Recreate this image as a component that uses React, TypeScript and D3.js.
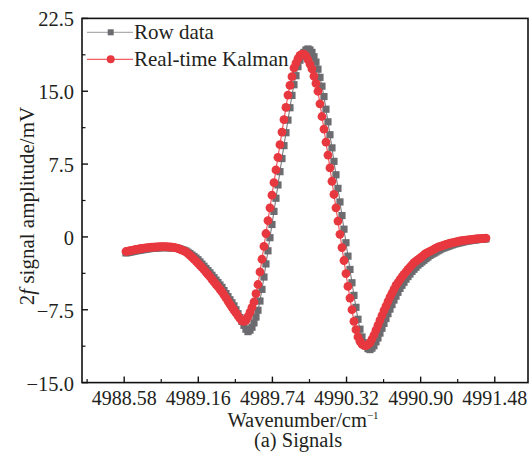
import React from 'react';
import * as d3 from 'd3';

// Sampling grid (wavenumber, cm^-1)
const X_START = 4988.594;
const X_STEP = 0.01565;

// Raw 2f signal (mV)
const rowData = [
  -1.65,-1.61,-1.57,-1.53,-1.48,-1.44,-1.40,-1.37,-1.33,-1.30,
  -1.27,-1.23,-1.20,-1.18,-1.17,-1.15,-1.13,-1.12,-1.10,-1.10,
  -1.10,-1.11,-1.11,-1.12,-1.12,-1.14,-1.18,-1.23,-1.30,-1.37,
  -1.45,-1.58,-1.72,-1.87,-2.02,-2.18,-2.35,-2.57,-2.80,-3.02,
  -3.25,-3.47,-3.70,-3.95,-4.20,-4.45,-4.70,-4.95,-5.20,-5.52,
  -5.83,-6.15,-6.47,-6.78,-7.10,-7.50,-7.90,-8.30,-8.70,-9.10,
  -9.50,-9.75,-9.60,-9.30,-8.85,-8.25,-7.55,-6.60,-5.40,-4.13,
  -2.78,-1.43,-0.08,1.28,2.63,3.98,5.35,6.72,8.07,9.40,
  10.73,12.03,13.30,14.57,15.67,16.60,17.53,18.20,18.60,19.00,
  19.25,19.35,19.25,19.00,18.55,18.00,17.27,16.43,15.52,14.45,
  13.15,11.85,10.52,9.17,7.78,6.40,5.00,3.60,2.20,0.80,
  -0.60,-1.98,-3.35,-4.72,-6.02,-7.25,-8.48,-9.50,-10.30,-10.90,
  -11.25,-11.50,-11.60,-11.45,-11.20,-10.80,-10.40,-9.90,-9.40,-8.90,
  -8.40,-7.90,-7.43,-6.97,-6.50,-6.10,-5.70,-5.30,-4.98,-4.67,
  -4.35,-4.08,-3.82,-3.55,-3.33,-3.12,-2.90,-2.73,-2.57,-2.40,
  -2.23,-2.07,-1.90,-1.78,-1.67,-1.55,-1.43,-1.32,-1.20,-1.13,
  -1.05,-0.98,-0.90,-0.83,-0.75,-0.70,-0.65,-0.60,-0.55,-0.50,
  -0.45,-0.42,-0.39,-0.36,-0.33,-0.30,-0.27,-0.25,-0.23,-0.22,
  -0.20,
];

// Real-time Kalman filtered signal (mV)
const kalman = [
  -1.50,-1.46,-1.42,-1.38,-1.33,-1.29,-1.25,-1.22,-1.19,-1.16,
  -1.13,-1.10,-1.07,-1.06,-1.05,-1.04,-1.02,-1.01,-1.00,-1.00,
  -1.01,-1.02,-1.04,-1.06,-1.08,-1.12,-1.18,-1.26,-1.35,-1.45,
  -1.55,-1.72,-1.90,-2.09,-2.29,-2.49,-2.70,-2.92,-3.15,-3.38,
  -3.62,-3.86,-4.10,-4.36,-4.62,-4.88,-5.13,-5.39,-5.65,-5.97,
  -6.28,-6.60,-6.92,-7.23,-7.55,-7.83,-8.12,-8.40,-8.65,-8.70,
  -8.60,-8.20,-7.75,-7.25,-6.70,-5.85,-4.90,-3.60,-2.30,-0.98,
  0.35,1.68,3.00,4.30,5.60,6.90,8.20,9.50,10.80,12.07,
  13.33,14.60,15.60,16.50,17.40,17.90,18.35,18.70,18.82,18.83,
  18.65,18.25,17.80,17.30,16.55,15.80,15.00,13.70,12.40,11.10,
  9.77,8.43,7.10,5.73,4.37,3.00,1.63,0.27,-1.10,-2.43,
  -3.77,-5.10,-6.30,-7.50,-8.70,-9.55,-10.30,-10.75,-11.05,-11.17,
  -11.20,-11.08,-10.90,-10.52,-10.10,-9.60,-9.10,-8.60,-8.10,-7.60,
  -7.13,-6.67,-6.20,-5.80,-5.40,-5.00,-4.70,-4.40,-4.10,-3.85,
  -3.60,-3.35,-3.12,-2.88,-2.65,-2.49,-2.33,-2.18,-2.02,-1.86,
  -1.70,-1.59,-1.48,-1.38,-1.27,-1.16,-1.05,-0.98,-0.92,-0.85,
  -0.78,-0.72,-0.65,-0.61,-0.56,-0.51,-0.47,-0.42,-0.38,-0.35,
  -0.33,-0.30,-0.27,-0.25,-0.22,-0.20,-0.19,-0.17,-0.15,-0.14,
  -0.12,
];

const xTicks = [4988.58, 4989.16, 4989.74, 4990.32, 4990.9, 4991.48];
const xTickLabels = ['4988.58', '4989.16', '4989.74', '4990.32', '4990.90', '4991.48'];
const xMinorTicks = [4988.29, 4988.87, 4989.45, 4990.03, 4990.61, 4991.19];
const yTicks = [-15, -7.5, 0, 7.5, 15, 22.5];
const yTickLabels = ['\u221215.0', '\u22127.5', '0', '7.5', '15.0', '22.5'];
const yMinorTicks = [-11.25, -3.75, 3.75, 11.25, 18.75];
const seriesNames = ['Row data', 'Real-time Kalman'];

const FONT = "'Liberation Serif', 'Times New Roman', Times, serif";
const GRAY = '#6c6c70';
const RED = '#e8383f';
const TEXT = '#231f20';

export default function App() {
  const W = 532, H = 459;
  const L = 82, R = 528, T = 18.4, B = 382.6;
  const x = d3.scaleLinear().domain([4988.25, 4991.74]).range([L, R]);
  const y = d3.scaleLinear().domain([-15, 22.5]).range([B, T]);
  const xs = d3.range(rowData.length).map((i) => X_START + i * X_STEP);

  const line = d3
    .line<number>()
    .x((_, i) => x(xs[i]))
    .y((d) => y(d));

  const sq = 7.2;
  const r = 4.4;
  const ts = { fontFamily: FONT };

  return (
    <svg
      width={W}
      height={H}
      style={{ position: 'absolute', left: 0, top: 0, background: '#fff', fontFamily: FONT }}
    >
      <rect x={0} y={0} width={W} height={H} fill="#fff" />

      {/* data: raw */}
      <path d={line(rowData) || ''} fill="none" stroke={GRAY} strokeWidth={1} />
      {rowData.map((v, i) => (
        <rect
          key={'g' + i}
          x={x(xs[i]) - sq / 2}
          y={y(v) - sq / 2}
          width={sq}
          height={sq}
          fill={GRAY}
        />
      ))}
      {/* data: kalman */}
      <path d={line(kalman) || ''} fill="none" stroke={RED} strokeWidth={1} />
      {kalman.map((v, i) => (
        <circle key={'r' + i} cx={x(xs[i])} cy={y(v)} r={r} fill={RED} />
      ))}

      {/* frame */}
      <rect x={L} y={T} width={R - L} height={B - T} fill="none" stroke="#111" strokeWidth={1.6} />

      {/* x ticks */}
      {xTicks.map((t, i) => (
        <g key={'xt' + i}>
          <line x1={x(t)} x2={x(t)} y1={B} y2={B - 6} stroke="#111" strokeWidth={1.4} />
          <text x={x(t)} y={404.5} textAnchor="middle" fontSize={20} fill={TEXT} style={ts}>
            {xTickLabels[i]}
          </text>
        </g>
      ))}
      {xMinorTicks.map((t, i) => (
        <line key={'xm' + i} x1={x(t)} x2={x(t)} y1={B} y2={B - 3.5} stroke="#111" strokeWidth={1.2} />
      ))}

      {/* y ticks */}
      {yTicks.map((t, i) => (
        <g key={'yt' + i}>
          <line x1={L} x2={L + 6} y1={y(t)} y2={y(t)} stroke="#111" strokeWidth={1.4} />
          <text x={74} y={y(t) + 8} textAnchor="end" fontSize={20.5} fill={TEXT} style={ts}>
            {yTickLabels[i]}
          </text>
        </g>
      ))}
      {yMinorTicks.map((t, i) => (
        <line key={'ym' + i} x1={L} x2={L + 3.5} y1={y(t)} y2={y(t)} stroke="#111" strokeWidth={1.2} />
      ))}

      {/* axis titles */}
      <text x={303} y={427} textAnchor="middle" fontSize={20.5} fill={TEXT} style={ts}>
        Wavenumber/cm
        <tspan fontSize={11} dy={-8}>
          {'\u22121'}
        </tspan>
      </text>
      <text x={298} y={447} textAnchor="middle" fontSize={20.5} fill={TEXT} style={ts}>
        (a) Signals
      </text>
      <text
        transform={`translate(34,206) rotate(-90)`}
        textAnchor="middle"
        fontSize={21}
        fill={TEXT}
        style={ts}
      >
        2<tspan fontStyle="italic">f</tspan> signal amplitude/mV
      </text>

      {/* legend */}
      <g>
        <line x1={87} x2={133} y1={32.3} y2={32.3} stroke="#9a9a9a" strokeWidth={1} />
        <rect x={110.7 - 3} y={32.3 - 3} width={6} height={6} fill={GRAY} />
        <text x={134} y={32.3 + 7} fontSize={21} fill={TEXT} style={ts}>
          {seriesNames[0]}
        </text>
        <line x1={87} x2={133} y1={59.3} y2={59.3} stroke={RED} strokeWidth={1} />
        <circle cx={110.7} cy={59.3} r={4} fill={RED} />
        <text x={134} y={59.3 + 7} fontSize={21} fill={TEXT} style={ts}>
          {seriesNames[1]}
        </text>
      </g>
    </svg>
  );
}
